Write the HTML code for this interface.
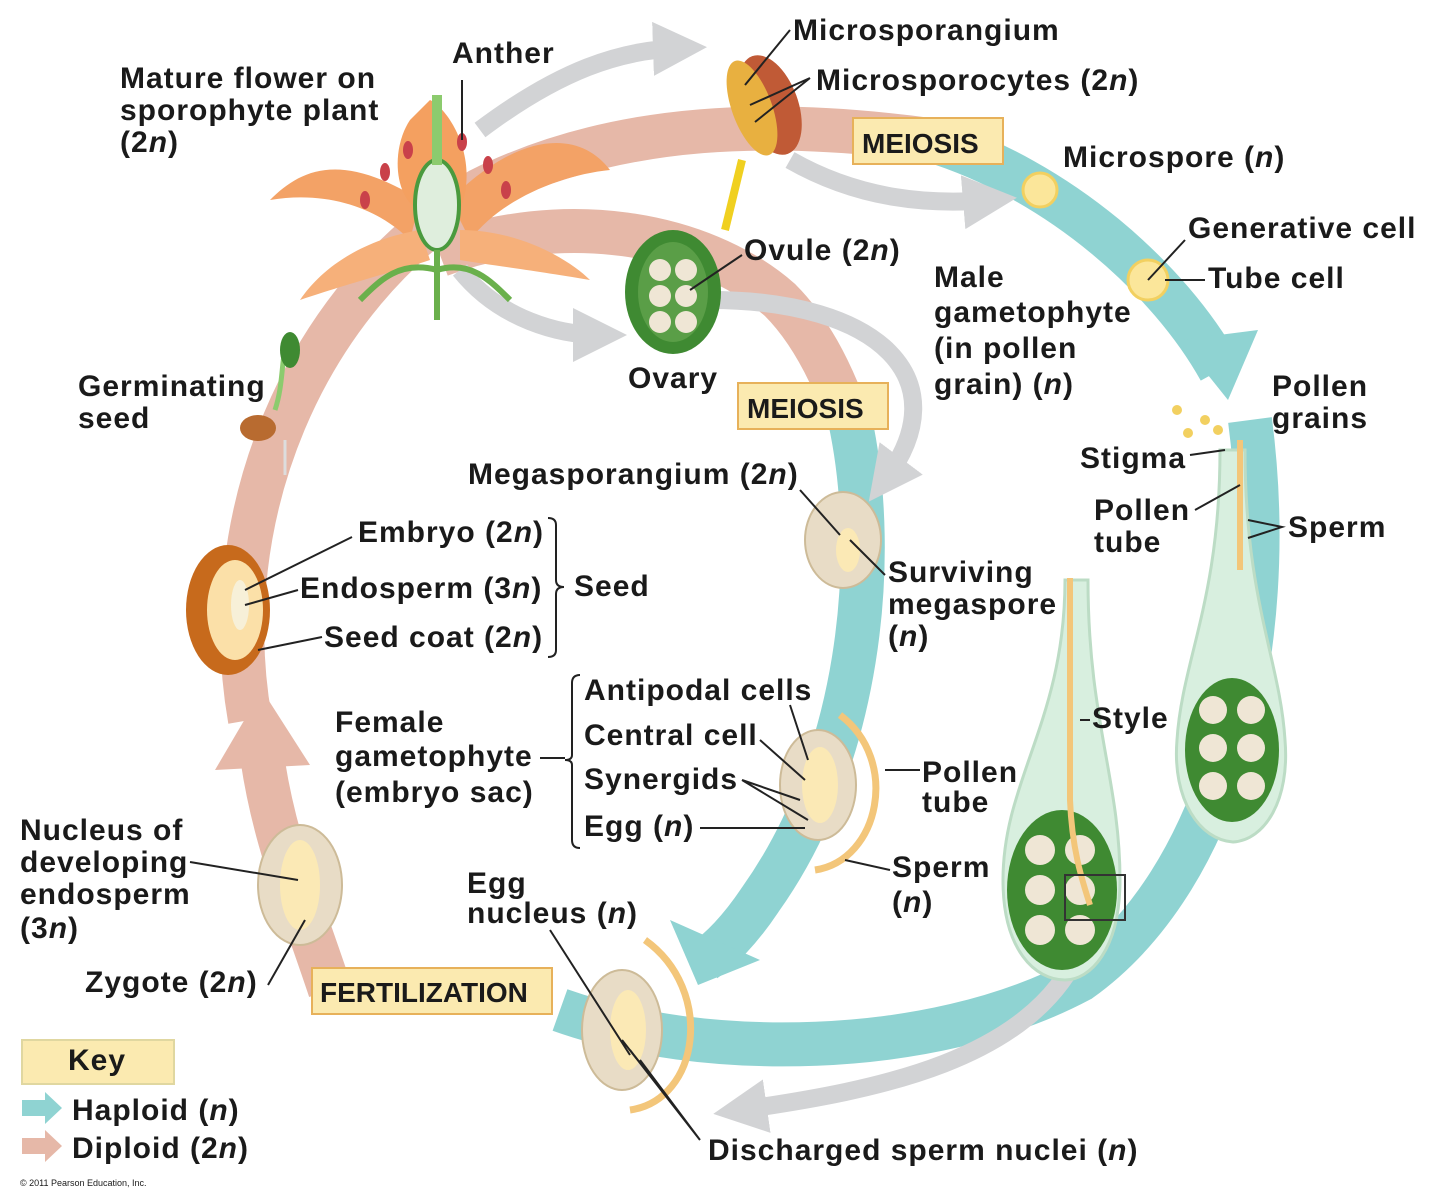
<!DOCTYPE html>
<html><head><meta charset="utf-8"><style>
html,body{margin:0;padding:0;background:#fff}
svg{display:block}
text{font-family:"Liberation Sans",sans-serif;font-weight:bold;font-size:30px;letter-spacing:1px;fill:#1a1a1a}
.s{font-size:9px;font-weight:normal;letter-spacing:0}
</style></head><body>
<svg width="1435" height="1200" viewBox="0 0 1435 1200" xmlns="http://www.w3.org/2000/svg">
<defs>
<marker id="gh" viewBox="0 0 10 10" refX="5" refY="5" markerWidth="3" markerHeight="3" orient="auto"><path d="M0,0 L10,5 L0,10z" fill="#d2d3d5"/></marker>
</defs>
<path d="M250,720 C215,520 300,300 480,190 C620,120 780,120 930,140" fill="none" stroke="#e6b8a8" stroke-width="44"/>
<path d="M330,990 C300,900 270,830 260,740" fill="none" stroke="#e6b8a8" stroke-width="44"/>
<path d="M215,770 L262,690 L310,765z" fill="#e6b8a8"/>
<path d="M930,140 C1060,180 1170,280 1220,370" fill="none" stroke="#8fd3d2" stroke-width="44"/>
<path d="M1180,340 L1228,400 L1258,330z" fill="#8fd3d2"/>
<path d="M1250,420 C1280,650 1220,880 1080,980 C930,1060 700,1060 560,1010" fill="none" stroke="#8fd3d2" stroke-width="44"/>
<path d="M440,255 C560,210 700,230 780,300 C810,330 830,370 845,410" fill="none" stroke="#e6b8a8" stroke-width="44"/>
<path d="M850,420 C880,560 860,760 760,900 C740,930 720,950 705,960" fill="none" stroke="#8fd3d2" stroke-width="44"/>
<path d="M670,920 L698,985 L760,960z" fill="#8fd3d2"/>
<g fill="none" stroke="#d2d3d5" stroke-width="18" marker-end="url(#gh)">
<path d="M480,130 C560,70 620,50 680,48"/>
<path d="M790,160 C860,200 930,205 990,200"/>
<path d="M460,270 C500,320 560,335 600,335"/>
<path d="M710,300 C880,300 960,380 885,480"/>
<path d="M1080,950 C1030,1060 880,1090 740,1110"/>
</g>
<g>
<path d="M420,200 C340,150 300,170 270,200 C330,190 380,210 410,240z" fill="#f3a266"/>
<path d="M450,200 C520,130 580,130 610,170 C560,175 500,200 470,240z" fill="#f3a266"/>
<path d="M420,230 C360,240 320,270 300,300 C360,280 400,270 430,260z" fill="#f6b07a"/>
<path d="M460,230 C520,230 570,260 590,280 C530,270 490,265 460,260z" fill="#f6b07a"/>
<path d="M410,120 C390,150 395,200 420,210 L460,210 C480,160 450,110 430,100z" fill="#f4a060"/>
<ellipse cx="437" cy="205" rx="22" ry="45" fill="#dfeedd" stroke="#4a9a3e" stroke-width="4"/>
<rect x="432" y="95" width="10" height="70" fill="#8ccb6e"/>
<path d="M437,250 L437,320 M437,270 C400,260 380,280 360,300 M437,270 C470,260 490,280 510,300" stroke="#6ab04c" stroke-width="6" fill="none"/>
<g fill="#c9414a"><ellipse cx="462" cy="142" rx="5" ry="9"/><ellipse cx="408" cy="150" rx="5" ry="9"/><ellipse cx="488" cy="165" rx="5" ry="9"/><ellipse cx="385" cy="172" rx="5" ry="9"/><ellipse cx="506" cy="190" rx="5" ry="9"/><ellipse cx="365" cy="200" rx="5" ry="9"/></g>
</g>
<path d="M742,160 L725,230" stroke="#f0d020" stroke-width="8"/>
<ellipse cx="770" cy="105" rx="28" ry="52" fill="#c05a36" transform="rotate(-20 770 105)"/>
<ellipse cx="752" cy="108" rx="20" ry="50" fill="#e8b040" transform="rotate(-20 752 108)"/>
<circle cx="1040" cy="190" r="17" fill="#fbe69a" stroke="#f2d060" stroke-width="3"/>
<circle cx="1148" cy="280" r="20" fill="#fbe69a" stroke="#f2d060" stroke-width="3"/>
<g fill="#f2d060"><circle cx="1177" cy="410" r="5"/><circle cx="1205" cy="420" r="5"/><circle cx="1188" cy="433" r="5"/><circle cx="1218" cy="430" r="5"/></g>
<ellipse cx="673" cy="292" rx="48" ry="62" fill="#3f8a32"/>
<ellipse cx="673" cy="292" rx="35" ry="50" fill="#5a9e47"/>
<g fill="#efe6d5"><circle cx="660" cy="270" r="11"/><circle cx="686" cy="270" r="11"/><circle cx="660" cy="296" r="11"/><circle cx="686" cy="296" r="11"/><circle cx="660" cy="322" r="11"/><circle cx="686" cy="322" r="11"/></g>
<path d="M1220,450 L1245,450 C1245,600 1280,660 1285,740 C1290,800 1265,840 1233,842 C1200,840 1172,800 1177,740 C1182,660 1220,600 1220,450z" fill="#d8efdf" stroke="#bcdcc5" stroke-width="3"/>
<ellipse cx="1232" cy="750" rx="47" ry="72" fill="#3f8a32"/>
<g fill="#efe6d5"><circle cx="1213" cy="710" r="14"/><circle cx="1251" cy="710" r="14"/><circle cx="1213" cy="748" r="14"/><circle cx="1251" cy="748" r="14"/><circle cx="1213" cy="786" r="14"/><circle cx="1251" cy="786" r="14"/></g>
<path d="M1240,440 L1240,570" stroke="#f3c67a" stroke-width="6"/>
<path d="M1065,580 L1088,580 C1088,720 1120,780 1120,880 C1120,950 1090,980 1065,980 C1035,980 1003,950 1003,880 C1003,780 1065,720 1065,580z" fill="#d8efdf" stroke="#bcdcc5" stroke-width="3"/>
<ellipse cx="1062" cy="890" rx="55" ry="80" fill="#3f8a32"/>
<g fill="#efe6d5"><circle cx="1040" cy="850" r="15"/><circle cx="1080" cy="850" r="15"/><circle cx="1040" cy="890" r="15"/><circle cx="1080" cy="890" r="15"/><circle cx="1040" cy="930" r="15"/><circle cx="1080" cy="930" r="15"/></g>
<path d="M1070,578 L1070,800 C1072,850 1082,880 1090,905" stroke="#f3c67a" stroke-width="6" fill="none"/>
<rect x="1065" y="875" width="60" height="45" fill="none" stroke="#333" stroke-width="2"/>
<g fill="#e8dcc6" stroke="#cdbb98" stroke-width="2">
<ellipse cx="843" cy="540" rx="38" ry="48"/>
<ellipse cx="818" cy="785" rx="38" ry="55"/>
<ellipse cx="622" cy="1030" rx="40" ry="60"/>
<ellipse cx="300" cy="885" rx="42" ry="60"/>
</g>
<g fill="#fbe9b5"><ellipse cx="848" cy="550" rx="12" ry="22"/><ellipse cx="820" cy="785" rx="18" ry="38"/><ellipse cx="628" cy="1030" rx="18" ry="40"/><ellipse cx="300" cy="885" rx="20" ry="45"/></g>
<path d="M840,715 C900,760 880,860 815,870" stroke="#f3c67a" stroke-width="7" fill="none"/>
<path d="M645,940 C715,990 700,1100 630,1110" stroke="#f3c67a" stroke-width="7" fill="none"/>
<ellipse cx="228" cy="610" rx="42" ry="65" fill="#c76a1c"/>
<ellipse cx="235" cy="610" rx="28" ry="50" fill="#fbe0a8"/>
<ellipse cx="240" cy="605" rx="9" ry="25" fill="#f7f0d8"/>
<ellipse cx="258" cy="428" rx="18" ry="13" fill="#b86b30"/>
<path d="M285,440 L285,475" stroke="#ddd" stroke-width="3"/>
<path d="M275,410 C285,380 280,350 290,340" stroke="#8ccb6e" stroke-width="5" fill="none"/>
<ellipse cx="290" cy="350" rx="10" ry="18" fill="#3f8a32"/>
<g stroke="#222" stroke-width="2" fill="none">
<path d="M462,140 L462,80"/><path d="M745,85 L790,30"/><path d="M750,105 L810,78 M755,122 L810,78"/>
<path d="M690,290 L742,255"/><path d="M1148,280 L1185,240 M1165,280 L1205,280"/>
<path d="M1190,455 L1225,450 M1195,510 L1240,485 M1248,520 L1282,527 L1248,538"/>
<path d="M800,490 L840,535 M850,540 L885,575"/>
<path d="M1090,720 L1080,720"/><path d="M885,770 L920,770"/><path d="M845,860 L890,870"/>
<path d="M245,590 L352,537 M245,605 L298,590 M258,650 L322,637"/>
<path d="M548,518 Q556,518 556,525 L556,580 Q556,587 564,587 Q556,587 556,594 L556,650 Q556,657 548,657"/>
<path d="M580,675 Q572,675 572,683 L572,755 Q572,760 565,760 Q572,760 572,765 L572,840 Q572,848 580,848"/>
<path d="M540,758 L565,758"/>
<path d="M790,705 L808,760 M760,740 L805,780 M742,780 L800,800 M742,780 L808,820 M700,828 L805,828"/>
<path d="M190,862 L298,880 M268,985 L305,920"/>
<path d="M550,930 L630,1055 M700,1140 L630,1050 M700,1140 L640,1060 M700,1140 L622,1040"/>
</g>
<g fill="#fbeab0" stroke="#e7b15a" stroke-width="2">
<rect x="853" y="118" width="150" height="46"/>
<rect x="738" y="383" width="150" height="46"/>
<rect x="312" y="968" width="240" height="46"/>
<rect x="22" y="1040" width="152" height="44" stroke="#e0d7a0"/>
</g>
<text x="862" y="153" style="font-size:28px;letter-spacing:0">MEIOSIS</text>
<text x="747" y="418" style="font-size:28px;letter-spacing:0">MEIOSIS</text>
<text x="320" y="1002" style="font-size:28px;letter-spacing:0">FERTILIZATION</text>
<text x="68" y="1070">Key</text>
<path d="M22,1100 L45,1100 L45,1092 L62,1108 L45,1124 L45,1116 L22,1116z" fill="#8fd3d2"/>
<path d="M22,1138 L45,1138 L45,1130 L62,1146 L45,1162 L45,1154 L22,1154z" fill="#e6b8a8"/>
<text x="452" y="63">Anther</text>
<text x="120" y="88">Mature flower on</text>
<text x="120" y="120">sporophyte plant</text>
<text x="120" y="152">(2<tspan font-style="italic">n</tspan>)</text>
<text x="793" y="40">Microsporangium</text>
<text x="816" y="90">Microsporocytes (2<tspan font-style="italic">n</tspan>)</text>
<text x="1063" y="167">Microspore (<tspan font-style="italic">n</tspan>)</text>
<text x="1188" y="238">Generative cell</text>
<text x="1208" y="288">Tube cell</text>
<text x="744" y="260">Ovule (2<tspan font-style="italic">n</tspan>)</text>
<text x="934" y="287">Male</text>
<text x="934" y="322">gametophyte</text>
<text x="934" y="358">(in pollen</text>
<text x="934" y="394">grain) (<tspan font-style="italic">n</tspan>)</text>
<text x="628" y="388">Ovary</text>
<text x="1272" y="396">Pollen</text>
<text x="1272" y="428">grains</text>
<text x="78" y="396">Germinating</text>
<text x="78" y="428">seed</text>
<text x="468" y="484">Megasporangium (2<tspan font-style="italic">n</tspan>)</text>
<text x="1080" y="468">Stigma</text>
<text x="1094" y="520">Pollen</text>
<text x="1094" y="552">tube</text>
<text x="1288" y="537">Sperm</text>
<text x="358" y="542">Embryo (2<tspan font-style="italic">n</tspan>)</text>
<text x="300" y="598">Endosperm (3<tspan font-style="italic">n</tspan>)</text>
<text x="574" y="596">Seed</text>
<text x="324" y="647">Seed coat (2<tspan font-style="italic">n</tspan>)</text>
<text x="888" y="582">Surviving</text>
<text x="888" y="614">megaspore</text>
<text x="888" y="646">(<tspan font-style="italic">n</tspan>)</text>
<text x="584" y="700">Antipodal cells</text>
<text x="584" y="745">Central cell</text>
<text x="584" y="789">Synergids</text>
<text x="584" y="836">Egg (<tspan font-style="italic">n</tspan>)</text>
<text x="335" y="732">Female</text>
<text x="335" y="766">gametophyte</text>
<text x="335" y="802">(embryo sac)</text>
<text x="1092" y="728">Style</text>
<text x="922" y="782">Pollen</text>
<text x="922" y="812">tube</text>
<text x="892" y="877">Sperm</text>
<text x="892" y="912">(<tspan font-style="italic">n</tspan>)</text>
<text x="20" y="840">Nucleus of</text>
<text x="20" y="872">developing</text>
<text x="20" y="904">endosperm</text>
<text x="20" y="938">(3<tspan font-style="italic">n</tspan>)</text>
<text x="467" y="893">Egg</text>
<text x="467" y="923">nucleus (<tspan font-style="italic">n</tspan>)</text>
<text x="85" y="992">Zygote (2<tspan font-style="italic">n</tspan>)</text>
<text x="72" y="1120">Haploid (<tspan font-style="italic">n</tspan>)</text>
<text x="72" y="1158">Diploid (2<tspan font-style="italic">n</tspan>)</text>
<text x="708" y="1160">Discharged sperm nuclei (<tspan font-style="italic">n</tspan>)</text>
<text x="20" y="1186" class="s">© 2011 Pearson Education, Inc.</text>
</svg>
</body></html>
